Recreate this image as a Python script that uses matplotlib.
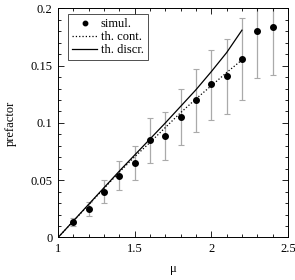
import numpy as np
import matplotlib
matplotlib.use("Agg")
import matplotlib.pyplot as plt
from matplotlib.ticker import MultipleLocator

plt.rcParams['font.family'] = ['Liberation Serif', 'DejaVu Serif']
plt.rcParams['font.size'] = 9

# simulation points
mu_sim = [1.1, 1.2, 1.3, 1.4, 1.5, 1.6, 1.7, 1.8, 1.9, 2.0, 2.1, 2.2, 2.3, 2.4]
pref_sim = [0.0133, 0.025, 0.040, 0.054, 0.065, 0.085, 0.0887, 0.105, 0.1197,
            0.1336, 0.141, 0.1557, 0.180, 0.1837]
pref_lo = [0.010, 0.019, 0.030, 0.041, 0.050, 0.065, 0.068, 0.081, 0.092,
           0.1026, 0.108, 0.120, 0.139, 0.1417]
pref_hi = [0.017, 0.031, 0.050, 0.067, 0.080, 0.104, 0.1096, 0.1296, 0.1475,
           0.164, 0.173, 0.192, 0.221, 0.226]

# theory curves
mu_th = [1.0, 1.1, 1.2, 1.3, 1.4, 1.5, 1.6, 1.7, 1.8, 1.9, 2.0, 2.1, 2.2]
pref_cont = [0.0, 0.0143, 0.0286, 0.0429, 0.0571, 0.0705, 0.083, 0.096, 0.109,
             0.121, 0.1325, 0.144, 0.155]
pref_discr = [0.0, 0.0145, 0.029, 0.0435, 0.058, 0.072, 0.086, 0.100, 0.1145,
              0.129, 0.1448, 0.1614, 0.181]

y = np.array(pref_sim)
yerr = [y - np.array(pref_lo), np.array(pref_hi) - y]

fig = plt.figure(figsize=(2.95, 2.80), dpi=100)
ax = fig.add_axes([0.197, 0.152, 0.779, 0.818])

ax.errorbar(mu_sim, y, yerr=yerr, fmt='none', ecolor='#aaaaaa',
            elinewidth=0.9, capsize=2, capthick=0.8, zorder=1)
ax.plot(mu_sim, y, 'o', color='black', ms=4, label='simul.', zorder=3)
ax.plot(mu_th, pref_cont, ':', color='black', lw=0.9, label='th. cont.')
ax.plot(mu_th, pref_discr, '-', color='black', lw=0.9, label='th. discr.')

ax.set_xlim(1, 2.5)
ax.set_ylim(0, 0.2)
ax.set_xticks([1, 1.5, 2, 2.5])
ax.set_xticklabels(['1', '1.5', '2', '2.5'])
ax.set_yticks([0, 0.05, 0.1, 0.15, 0.2])
ax.set_yticklabels(['0', '0.05', '0.1', '0.15', '0.2'])
ax.xaxis.set_minor_locator(MultipleLocator(0.1))
ax.yaxis.set_minor_locator(MultipleLocator(0.01))
ax.tick_params(which='both', direction='in', top=True, right=True, width=0.6)
ax.tick_params(which='major', length=4, pad=4)
ax.tick_params(which='minor', length=2)
for s in ax.spines.values():
    s.set_linewidth(0.7)

ax.set_xlabel('μ', labelpad=6)
ax.set_ylabel('prefactor', labelpad=10)

leg = ax.legend(loc='upper left', bbox_to_anchor=(0.045, 0.975), frameon=True,
                fancybox=False, edgecolor='black', handlelength=2.0,
                handletextpad=0.3, borderpad=0.3, labelspacing=0.1,
                borderaxespad=0, markerscale=0.8)
leg.get_frame().set_linewidth(0.6)

fig.savefig('out.png', dpi=100)
